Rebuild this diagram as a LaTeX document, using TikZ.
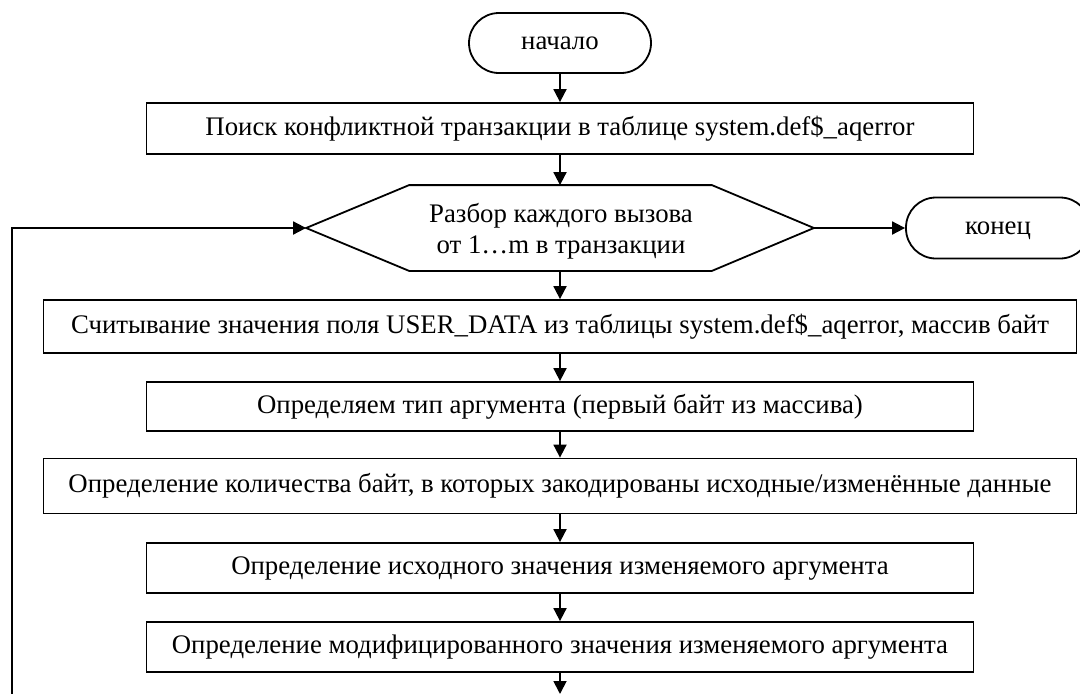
\documentclass[tikz,border=0pt]{standalone}
\usepackage{fontspec}
\setmainfont{Liberation Serif}
\usetikzlibrary{arrows.meta,calc}
\begin{document}
\begin{tikzpicture}[x=1pt,y=-1pt,line width=1.8pt,
  fnt/.style={font=\fontsize{26.8}{31}\selectfont},
  txt/.style={fnt,text height=18pt,text depth=5pt},
  box/.style={txt,draw,rectangle,inner sep=0pt},
  wide/.style={box,minimum width=1033pt},
  narrow/.style={box,minimum width=827pt},
  term/.style={txt,draw,rectangle,rounded corners=30pt,inner sep=0pt,minimum width=182pt,minimum height=60pt},
  arr/.style={-{Triangle[length=13pt,width=13pt]}}]
\useasboundingbox (0,0) rectangle (1080,694);
\node[term] (start) at (560,43) {начало};
\node[narrow,minimum height=51pt] (b1) at (560,128.5) {Поиск конфликтной транзакции в таблице system.def\$\_aqerror};
\node[inner sep=0pt,minimum width=506pt,minimum height=84pt] (hex) at (560,228) {};
\node[fnt,inner sep=0pt,align=center] (hextext) at (561,231) {Разбор каждого вызова\\от 1…m в транзакции};
\draw (hex.west) -- ($(hex.north west)+(103,0)$) -- ($(hex.north east)+(-102,0)$) -- (hex.east)
  -- ($(hex.south east)+(-102,0)$) -- ($(hex.south west)+(103,0)$) -- cycle;
\node[term,minimum width=184pt,minimum height=61pt] (end) at (998,228) {конец};
\node[wide,minimum height=53pt] (b2) at (560,326.5) {Считывание значения поля USER\_DATA из таблицы system.def\$\_aqerror, массив байт};
\node[narrow,minimum height=49pt] (b3) at (560,406.5) {Определяем тип аргумента (первый байт из массива)};
\node[wide,minimum height=55pt] (b4) at (560,486) {Определение количества байт, в которых закодированы исходные/изменённые данные};
\node[narrow,minimum height=50pt] (b5) at (560,568) {Определение исходного значения изменяемого аргумента};
\node[narrow,minimum height=50pt] (b6) at (560,647) {Определение модифицированного значения изменяемого аргумента};
\coordinate (bot) at (560,694);
\coordinate (loopstart) at (12,700);
\draw[arr] (start) -- (b1);
\draw[arr] (b1) -- (hex.north);
\draw[arr] (hex.south) -- (b2);
\draw[arr] (hex.east) -- (end);
\draw[arr] (b2) -- (b3);
\draw[arr] (b3) -- (b4);
\draw[arr] (b4) -- (b5);
\draw[arr] (b5) -- (b6);
\draw[arr] (b6) -- (bot);
\draw[arr] (loopstart) |- (hex.west);
\end{tikzpicture}
\end{document}
